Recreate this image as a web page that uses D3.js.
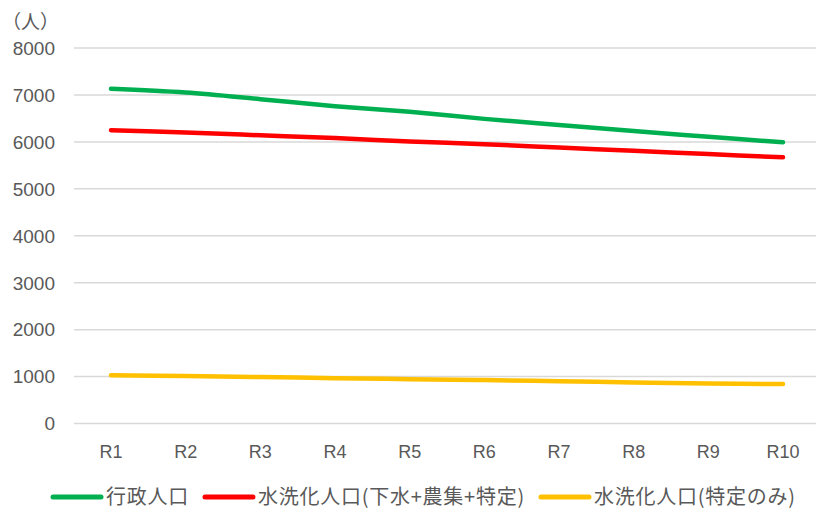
<!DOCTYPE html>
<html><head><meta charset="utf-8">
<script src="https://cdn.jsdelivr.net/npm/d3@7"></script>
<style>
body{margin:0;background:#fff;}
svg{display:block;}
</style></head>
<body><svg id="c" width="817" height="509"></svg>
<script>
const categories = ["R1","R2","R3","R4","R5","R6","R7","R8","R9","R10"];
const gyosei   = [7130,7050,6910,6760,6640,6490,6360,6230,6110,5990];
const suisen   = [6250,6200,6140,6080,6010,5950,5880,5810,5740,5670];
const tokutei  = [1030,1010,990,965,945,925,900,875,850,840];
const yTicks   = [0,1000,2000,3000,4000,5000,6000,7000,8000];
const seriesNames = ["行政人口","水洗化人口(下水+農集+特定)","水洗化人口(特定のみ)"];
const seriesColors = ["#00b050","#ff0000","#ffc000"];
const seriesData = [gyosei, suisen, tokutei];
const unitLabel = "（人）";

const svg = d3.select("#c");
const numFont = "'Liberation Sans', Arial, sans-serif";
const cjkFont = "'Noto Sans CJK JP', 'Noto Sans', sans-serif";

const x = d3.scalePoint().domain(categories).range([111, 783]);
const y = d3.scaleLinear().domain([0, 8000]).range([423.5, 48]);

// gridlines
svg.append("g").selectAll("line").data(yTicks).join("line")
  .attr("x1", 74).attr("x2", 816)
  .attr("y1", d => y(d)).attr("y2", d => y(d))
  .attr("stroke", "#d9d9d9").attr("stroke-width", 1.5);

// y labels
svg.append("g").selectAll("text").data(yTicks).join("text")
  .attr("x", 55).attr("y", d => y(d)).attr("dy", "0.36em")
  .attr("text-anchor", "end")
  .attr("font-family", numFont).attr("font-size", 19)
  .attr("fill", "#595959")
  .text(d => d);

// x labels
svg.append("g").selectAll("text").data(categories).join("text")
  .attr("x", d => x(d)).attr("y", 452).attr("dy", "0.36em")
  .attr("text-anchor", "middle")
  .attr("font-family", numFont).attr("font-size", 18)
  .attr("fill", "#595959")
  .text(d => d);

// unit
svg.append("text").attr("x", 2).attr("y", 29)
  .attr("font-family", cjkFont).attr("font-size", 19)
  .attr("fill", "#595959").text(unitLabel);

// lines
const line = d3.line()
  .x((d, i) => x(categories[i]))
  .y(d => y(d))
  .curve(d3.curveCatmullRom.alpha(0.5));

svg.append("g").selectAll("path").data(seriesData).join("path")
  .attr("d", d => line(d))
  .attr("fill", "none")
  .attr("stroke", (d, i) => seriesColors[i])
  .attr("stroke-width", 4.5)
  .attr("stroke-linecap", "round")
  .attr("stroke-linejoin", "round");

// legend
const lg = svg.append("g");
const legY = 497;
let cx = 53;
seriesNames.forEach((name, i) => {
  lg.append("line").attr("x1", cx).attr("x2", cx + 48)
    .attr("y1", legY).attr("y2", legY)
    .attr("stroke", seriesColors[i]).attr("stroke-width", 5)
    .attr("stroke-linecap", "round");
  const t = lg.append("text").attr("x", cx + 53).attr("y", legY).attr("dy", "0.36em")
    .attr("font-family", cjkFont).attr("font-size", 20)
    .attr("letter-spacing", 0.75)
    .attr("fill", "#595959").text(name);
  const w = t.node().getComputedTextLength();
  cx = cx + 53 + w + 16;
});
</script>
</body></html>
